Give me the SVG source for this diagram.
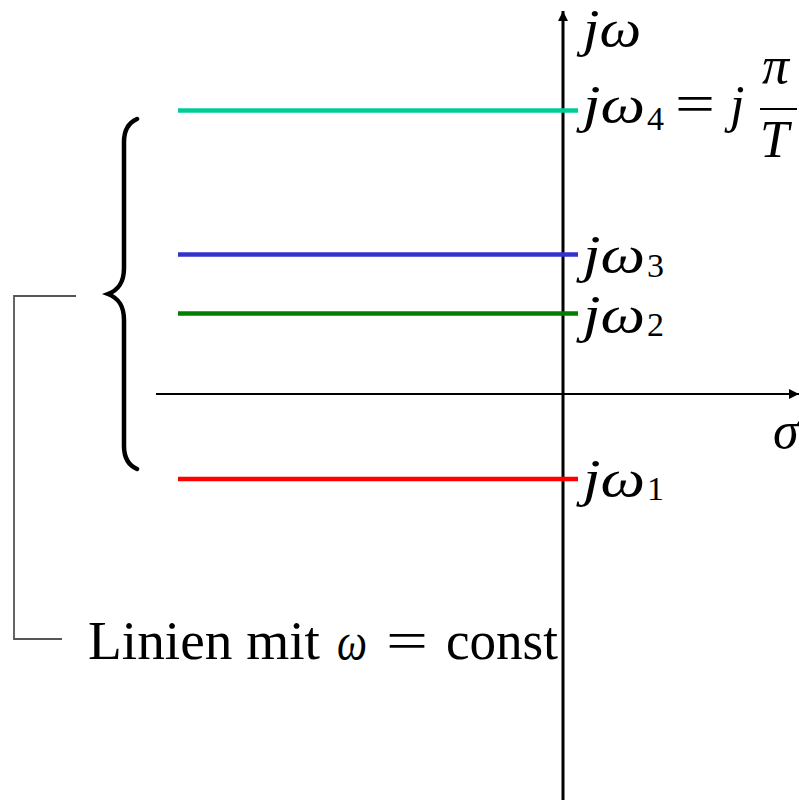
<svg xmlns="http://www.w3.org/2000/svg" width="799" height="800" viewBox="0 0 799 800">
<style>
.m{font-family:"Liberation Serif",serif;font-style:italic;font-size:52px;fill:#000}
.r{font-family:"Liberation Serif",serif;font-size:55px;fill:#000}
.s{font-family:"Liberation Serif",serif;font-size:34px;fill:#000}
.ln{stroke-width:4.5;fill:none}
</style>
<defs>
<marker id="ah" viewBox="0 0 10 10" refX="10" refY="5" markerWidth="10" markerHeight="10" markerUnits="userSpaceOnUse" orient="auto">
<path d="M0,0 L10,5 L0,10 Z" fill="#000"/>
</marker>
</defs>
<rect width="799" height="800" fill="#fff"/>
<g id="axes">
<line x1="156" y1="394" x2="799" y2="394" stroke="#000" stroke-width="2" marker-end="url(#ah)"/>
<line x1="563" y1="800" x2="563" y2="11" stroke="#000" stroke-width="3" marker-end="url(#ah)"/>
</g>
<g id="lines">
<line class="ln" x1="178" y1="110.5" x2="578" y2="110.5" stroke="#00CC99"/>
<line class="ln" x1="178" y1="254.5" x2="578" y2="254.5" stroke="#3333CC"/>
<line class="ln" x1="178" y1="313.5" x2="578" y2="313.5" stroke="#007F00"/>
<line class="ln" x1="178" y1="479" x2="578" y2="479" stroke="#FF0000"/>
</g>
<g id="brace">
<path d="M137,119 C128,123 124,130 124,142 L124,268 C124,283 118,290 108,294 C118,298 124,305 124,320 L124,446 C124,458 128,465 137,469" fill="none" stroke="#000" stroke-width="4.5" stroke-linecap="round"/>
</g>
<g id="connectors">
<path d="M76,296 H14 V639 H62" fill="none" stroke="#555" stroke-width="1.8"/>
</g>
<g id="labels">
<text class="m" x="583" y="46" font-size="44" textLength="58" lengthAdjust="spacingAndGlyphs">jω</text>
<text class="m" x="583" y="122" textLength="62" lengthAdjust="spacingAndGlyphs">jω</text>
<text class="s" x="647" y="130">4</text>
<text class="r" x="675" y="122" font-size="62" textLength="40" lengthAdjust="spacingAndGlyphs">=</text>
<text class="m" x="730" y="122">j</text>
<text class="m" x="762" y="83" font-size="40" textLength="27" lengthAdjust="spacingAndGlyphs">π</text>
<line x1="760" y1="109" x2="797" y2="109" stroke="#000" stroke-width="2"/>
<text class="m" x="760" y="157" font-size="55">T</text>
<text class="m" x="583" y="272" textLength="62" lengthAdjust="spacingAndGlyphs">jω</text>
<text class="s" x="647" y="277">3</text>
<text class="m" x="583" y="332" textLength="62" lengthAdjust="spacingAndGlyphs">jω</text>
<text class="s" x="647" y="336">2</text>
<text class="m" x="583" y="496" textLength="62" lengthAdjust="spacingAndGlyphs">jω</text>
<text class="s" x="647" y="500">1</text>
<text class="m" x="773" y="448">σ</text>
<text class="r" x="88" y="659" textLength="232" lengthAdjust="spacingAndGlyphs">Linien mit</text>
<text class="m" x="337" y="659" font-size="62" textLength="30" lengthAdjust="spacingAndGlyphs">ω</text>
<text class="r" x="386" y="659" font-size="62" textLength="42" lengthAdjust="spacingAndGlyphs">=</text>
<text class="r" x="446" y="659" textLength="112" lengthAdjust="spacingAndGlyphs">const</text>
</g>
</svg>
